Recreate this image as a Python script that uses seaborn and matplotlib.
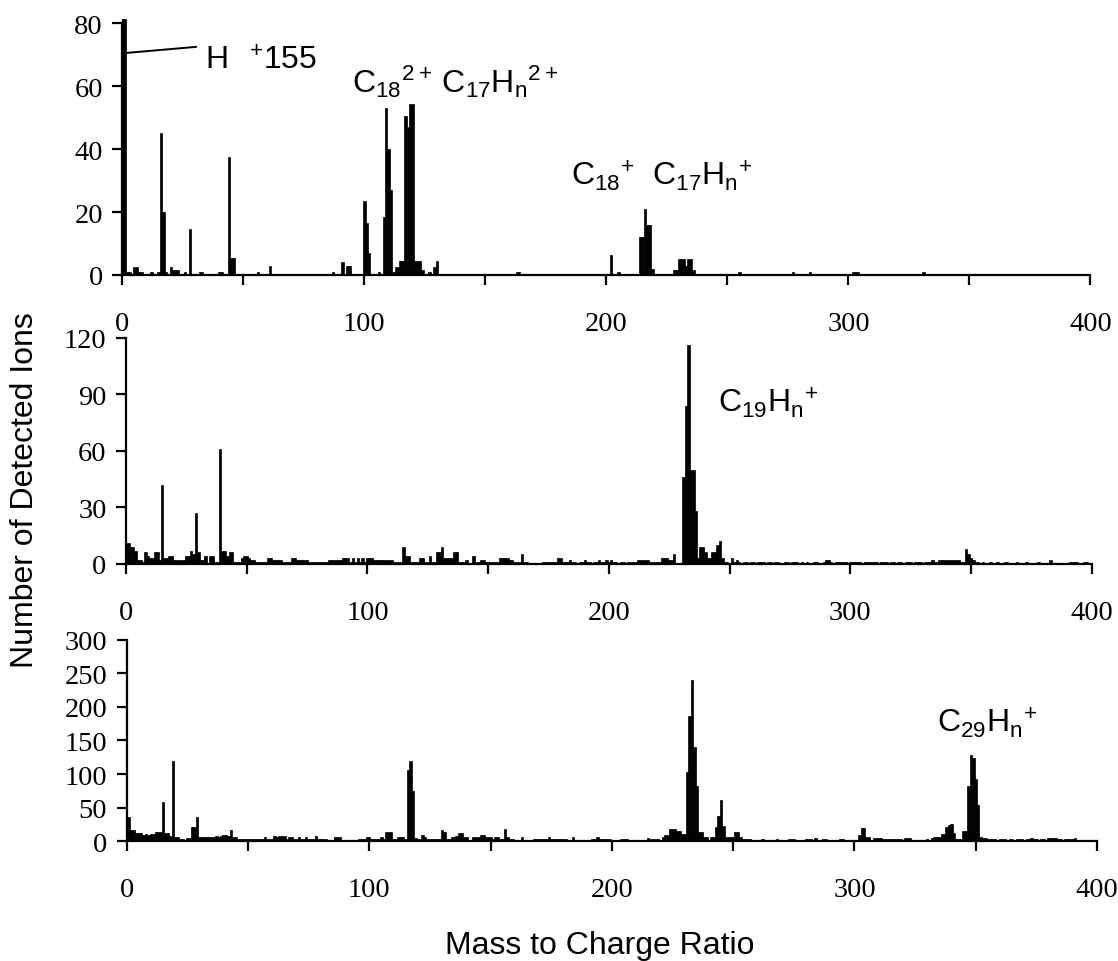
import numpy as np
import pandas as pd
import matplotlib
matplotlib.use("Agg")
import matplotlib.pyplot as plt
import seaborn as sns

# ---------------- data ----------------
# top panel (sparse): m/z positions and counts
top_mz = [0, 1, 2, 3, 5, 6, 7, 8, 12, 15,
          16, 17, 18, 20, 21, 22, 23, 26, 28, 32,
          33, 40, 41, 44, 45, 46, 56, 61, 87, 91,
          93, 94, 100, 101, 102, 106, 108, 109, 110, 111,
          112, 113, 114, 115, 116, 117, 118, 119, 120, 121,
          122, 123, 124, 127, 129, 130, 163, 164, 202, 205,
          214, 215, 216, 217, 218, 219, 228, 229, 230, 231,
          232, 233, 234, 235, 236, 255, 277, 284, 302, 303,
          304, 331]
top_counts = [81.5, 81.5, 1, 1, 2.5, 2.5, 1, 1, 1, 1,
              45, 20, 1, 2.5, 1.5, 1.5, 1.5, 1, 14.5, 1,
              1, 1, 1, 37.5, 5.5, 5.5, 1, 3, 1, 4,
              3, 3, 23.5, 16.5, 7, 1, 18.5, 53, 40, 27,
              1, 2.5, 2.5, 4.5, 4.5, 50.5, 47, 54.5, 54.5, 4.5,
              4.5, 4.5, 1.5, 1, 2.5, 4.5, 1, 1, 6.5, 1,
              12, 12, 21, 16, 16, 2, 1.5, 1.5, 5, 5,
              5, 3, 5, 5, 1.5, 1, 1, 1, 1, 1,
              1, 1]

# middle panel: counts for m/z 0..399
mid_counts = [
    11, 11, 9, 9, 7, 2, 2, 1, 6, 4, 3, 3, 6, 6, 2, 42, 3, 3, 4, 4,
    2, 2, 2, 2, 2, 4, 4, 7, 5, 27, 6, 2, 2, 4, 0, 4, 4, 1, 1, 61,
    7, 7, 4, 6, 6, 1, 1, 1, 3, 4, 4, 3, 2, 2, 1, 1, 1, 1, 1, 3,
    3, 2, 2, 2, 2, 1, 1, 1, 1, 3, 3, 2, 2, 2, 2, 2, 1, 1, 1, 1,
    1, 1, 1, 1, 2, 2, 2, 2, 2, 2, 3, 3, 3, 1, 3, 1, 3, 1, 3, 1,
    3, 3, 3, 2, 2, 2, 2, 2, 2, 2, 2, 1, 1, 1, 1, 9, 4, 4, 1, 1,
    1, 1, 3, 3, 1, 1, 4, 1, 1, 6, 6, 9, 3, 3, 3, 3, 6, 6, 1, 1,
    1, 2, 0, 0, 4, 1, 1, 2, 2, 1, 1, 1, 1, 1, 1, 3, 3, 3, 3, 2,
    2, 1, 1, 1, 5, 1, 1, 0, 0, 0, 0, 0, 0, 1, 1, 1, 1, 1, 1, 3,
    3, 1, 1, 1, 2, 1, 1, 0, 1, 1, 2, 1, 1, 0, 1, 1, 2, 1, 1, 2,
    1, 2, 1, 1, 0, 1, 1, 0, 1, 1, 1, 1, 2, 2, 2, 2, 2, 1, 1, 1,
    1, 1, 3, 3, 3, 2, 2, 5, 0, 0, 0, 46, 84, 116, 50, 50, 28, 3, 9, 9,
    6, 3, 3, 6, 6, 10, 12, 3, 1, 1, 0, 3, 1, 2, 1, 0, 1, 1, 0, 1,
    1, 0, 1, 1, 1, 0, 1, 1, 0, 1, 1, 0, 0, 1, 1, 0, 1, 1, 1, 0,
    1, 0, 1, 0, 0, 1, 1, 0, 0, 1, 2, 2, 1, 0, 1, 1, 1, 1, 1, 0,
    1, 1, 1, 1, 1, 0, 1, 1, 1, 1, 1, 1, 0, 1, 1, 1, 0, 1, 1, 0,
    1, 1, 0, 1, 1, 1, 0, 1, 1, 1, 0, 1, 1, 1, 2, 1, 1, 2, 2, 2,
    2, 2, 2, 2, 2, 2, 1, 1, 8, 5, 3, 2, 1, 1, 0, 1, 0, 0, 1, 0,
    0, 1, 0, 0, 1, 1, 0, 0, 0, 1, 0, 0, 0, 1, 0, 0, 0, 0, 1, 0,
    0, 0, 0, 2, 0, 0, 0, 0, 0, 0, 0, 1, 1, 1, 1, 0, 0, 1, 1, 0,
]

# bottom panel: counts for m/z 0..399
bot_counts = [
    36, 36, 17, 17, 12, 12, 12, 9, 11, 9, 11, 11, 14, 14, 14, 59, 12, 12, 8, 120,
    7, 7, 3, 3, 1, 5, 5, 22, 22, 36, 7, 7, 7, 7, 7, 7, 7, 8, 7, 8,
    9, 9, 8, 17, 6, 6, 3, 3, 3, 3, 3, 3, 3, 3, 3, 3, 3, 6, 3, 3,
    3, 8, 6, 8, 8, 8, 3, 7, 7, 3, 3, 7, 3, 3, 7, 3, 3, 3, 8, 3,
    3, 3, 3, 2, 2, 2, 7, 7, 7, 1, 1, 1, 1, 1, 1, 1, 3, 3, 3, 7,
    7, 4, 4, 4, 4, 7, 3, 14, 14, 14, 4, 4, 7, 7, 7, 3, 106, 120, 75, 5,
    4, 3, 9, 7, 3, 3, 3, 3, 3, 3, 17, 14, 3, 3, 6, 6, 8, 12, 12, 7,
    7, 1, 1, 7, 7, 7, 9, 9, 7, 7, 7, 3, 7, 7, 3, 3, 19, 7, 3, 3,
    1, 1, 1, 7, 1, 1, 1, 1, 3, 3, 3, 3, 3, 3, 7, 3, 3, 3, 3, 3,
    3, 3, 1, 1, 7, 1, 1, 1, 1, 1, 1, 1, 3, 3, 7, 3, 3, 3, 3, 3,
    1, 1, 1, 1, 3, 3, 3, 1, 1, 1, 1, 1, 1, 1, 1, 5, 3, 3, 3, 3,
    1, 7, 10, 10, 18, 18, 18, 16, 16, 11, 11, 103, 186, 240, 140, 82, 14, 14, 7, 7,
    1, 7, 7, 22, 37, 61, 23, 7, 7, 7, 7, 14, 14, 7, 3, 3, 3, 3, 1, 1,
    1, 1, 3, 1, 1, 1, 1, 1, 3, 1, 1, 1, 1, 3, 3, 3, 1, 1, 1, 1,
    3, 3, 3, 1, 5, 1, 1, 3, 3, 1, 1, 1, 1, 1, 3, 3, 1, 1, 1, 1,
    1, 1, 10, 20, 20, 7, 7, 1, 5, 5, 5, 5, 3, 3, 3, 3, 3, 3, 3, 3,
    1, 5, 5, 5, 1, 1, 1, 1, 1, 1, 3, 1, 5, 7, 7, 7, 11, 11, 22, 25,
    26, 12, 3, 3, 3, 16, 16, 82, 129, 124, 92, 54, 7, 5, 5, 3, 3, 3, 3, 1,
    3, 3, 3, 1, 3, 3, 1, 3, 3, 3, 1, 3, 3, 5, 3, 3, 1, 3, 3, 1,
    5, 5, 5, 5, 3, 3, 1, 3, 3, 3, 3, 5, 0, 0, 0, 0, 0, 0, 0, 0,
]
full_mz = list(range(400))

x_ticks = [0, 50, 100, 150, 200, 250, 300, 350, 400]
x_ticklabels = ["0", "", "100", "", "200", "", "300", "", "400"]
top_yticks = [0, 20, 40, 60, 80]
mid_yticks = [0, 30, 60, 90, 120]
bot_yticks = [0, 50, 100, 150, 200, 250, 300]

# ---------------- style ----------------
sns.set_theme(style="ticks")
plt.rcParams['font.family'] = ['Liberation Sans', 'DejaVu Sans']
plt.rcParams['mathtext.default'] = 'regular'
plt.rcParams['text.color'] = 'black'
plt.rcParams['axes.labelcolor'] = 'black'

W, H = 1118, 962
fig = plt.figure(figsize=(W / 100, H / 100), dpi=100)
fig.patch.set_facecolor('white')

ANN = 23
TICK = 20.5


def panel(rect, mz, counts, ymax, yticks, spine_top):
    ax = fig.add_axes(rect)
    df = pd.DataFrame({"mz": mz, "count": counts})
    sns.barplot(data=df, x="mz", y="count", native_scale=True, width=1,
                color="black", saturation=1, edgecolor="black", linewidth=0.5,
                errorbar=None, ax=ax, zorder=3)
    ax.set_xlim(0, 400)
    ax.set_ylim(0, ymax)
    for s in ("top", "right"):
        ax.spines[s].set_visible(False)
    for s in ("left", "bottom"):
        ax.spines[s].set_linewidth(1.6)
        ax.spines[s].set_color("black")
    ax.spines["left"].set_bounds(0, spine_top)
    ax.set_xticks(x_ticks)
    ax.set_xticklabels(x_ticklabels)
    ax.set_yticks(yticks)
    ax.set_yticklabels([str(v) for v in yticks])
    ax.tick_params(axis="both", direction="out", length=7, width=1.6,
                   color="black", labelsize=TICK, labelcolor="black")
    ax.tick_params(axis="x", pad=19)
    ax.tick_params(axis="y", pad=7)
    for lbl in ax.get_xticklabels() + ax.get_yticklabels():
        lbl.set_fontfamily("Liberation Serif")
    ax.set_xlabel("")
    ax.set_ylabel("")
    ax.set_facecolor("white")
    ax.grid(False)
    return ax


ax1 = panel([0.1094, 0.7131, 0.866, 0.2682], top_mz, top_counts, 82, top_yticks, 80)
ax2 = panel([0.1127, 0.4130, 0.8638, 0.2349], full_mz, mid_counts, 120, mid_yticks, 120)
ax3 = panel([0.1133, 0.1244, 0.868, 0.2097], full_mz, bot_counts, 300, bot_yticks, 300)

# annotations
ax1.plot([0.5, 30.5], [70.5, 72.5], color="black", lw=1.4, zorder=4)
ax1.text(34, 65.5, r"H$\ \ ^{+}$155", fontsize=ANN, va="baseline", ha="left")
ax1.text(95, 58.2, r"C$_{18}$$^{2+}$$\,$C$_{17}$H$_{n}$$^{2+}$", fontsize=ANN,
         va="baseline", ha="left")
ax1.text(185.4, 28.7, r"C$_{18}$$^{+}$  C$_{17}$H$_{n}$$^{+}$", fontsize=ANN,
         va="baseline", ha="left")
ax2.text(245, 81, r"C$_{19}$H$_{n}$$^{+}$", fontsize=ANN, va="baseline", ha="left")
ax3.text(334, 163, r"C$_{29}$H$_{n}$$^{+}$", fontsize=ANN, va="baseline", ha="left")

fig.text(25 / W, 1 - 490 / H, "Number of Detected Ions", rotation=90,
         ha="center", va="center", fontsize=23)
fig.text(600 / W, 1 - 946 / H, "Mass to Charge Ratio", ha="center",
         va="center", fontsize=23)

fig.savefig("out.png", dpi=100, facecolor="white")
